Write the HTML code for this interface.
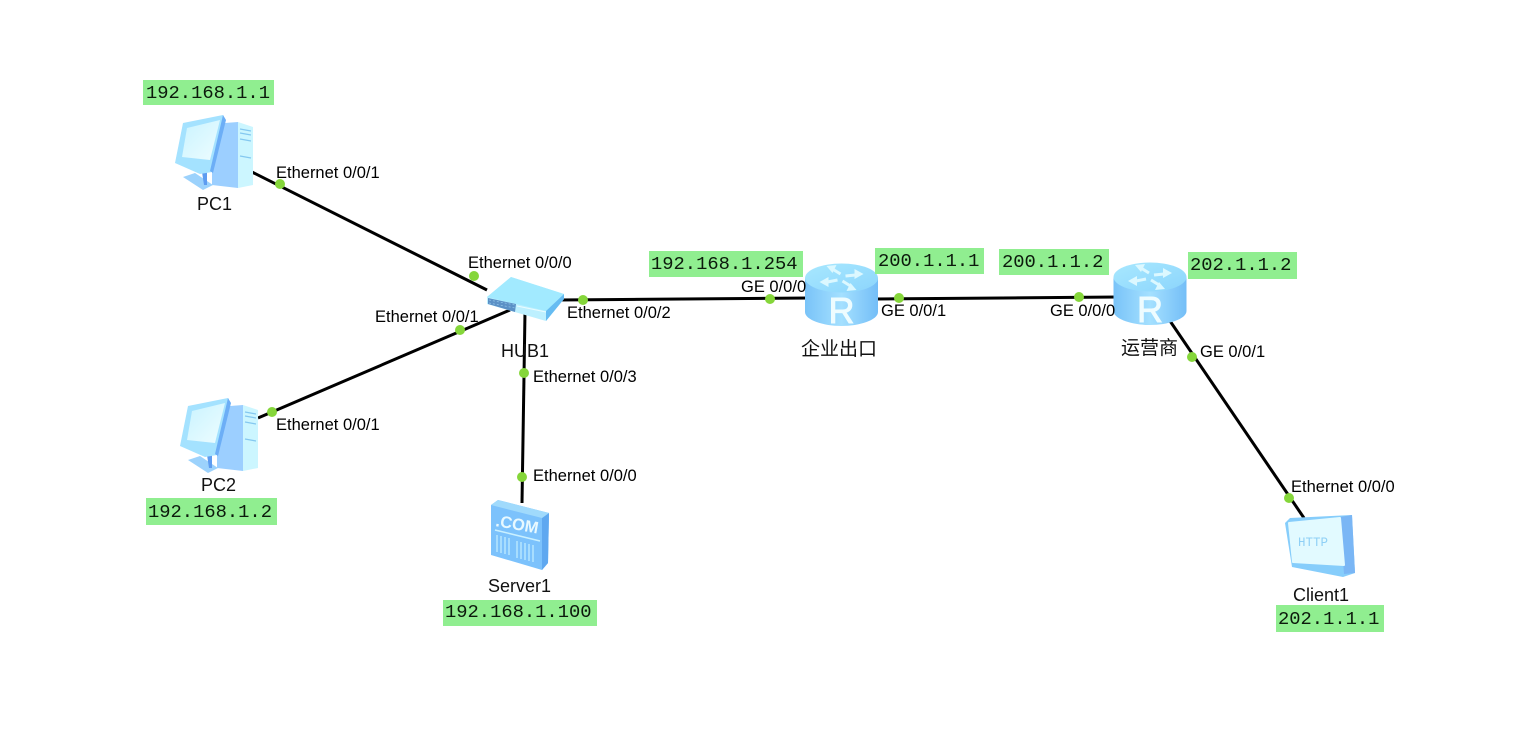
<!DOCTYPE html>
<html lang="zh">
<head>
<meta charset="utf-8">
<title>Network topology</title>
<style>
html,body{margin:0;padding:0;background:#fff;width:1532px;height:735px;overflow:hidden}
svg{display:block;filter:blur(.35px)}
.l{font-family:"Liberation Sans","Noto Sans CJK SC",sans-serif;font-size:16.5px;fill:#000}
.n{font-family:"Liberation Sans","Noto Sans CJK SC",sans-serif;font-size:18px;fill:#111}
.m{font-family:"Liberation Mono",monospace;font-size:18.8px;fill:#0c1a0c}
.g{fill:#90ee90}
.c{stroke:#000;stroke-width:3;fill:none}
.d{fill:#85d63a}
</style>
</head>
<body>
<svg width="1532" height="735" viewBox="0 0 1532 735" xmlns="http://www.w3.org/2000/svg">
<defs>
<linearGradient id="rb" x1="0" x2="1" y1="0" y2="0">
<stop offset="0" stop-color="#79c3f8"/><stop offset=".5" stop-color="#a4e0ff"/><stop offset="1" stop-color="#74bef7"/>
</linearGradient>
<linearGradient id="rt" x1="0" x2="1" y1="0" y2="1">
<stop offset="0" stop-color="#a8e8ff"/><stop offset="1" stop-color="#8cd5fc"/>
</linearGradient>
<linearGradient id="sc" x1="0" x2="1" y1="0" y2="1">
<stop offset="0" stop-color="#c9f3ff"/><stop offset="1" stop-color="#eefdff"/>
</linearGradient>
<g id="pc">
<polygon points="51,9 64,8 64,74 38,71 38,58" fill="#9ccfff"/>
<polygon points="64,8 79,13 79,71 64,74" fill="#ccf6ff"/>
<path d="M66,15l11,2M66,19l11,2M66,25l11,2M66,42l11,2" stroke="#84c8f0" stroke-width="1.200"/>
<polygon points="9,63 21,59 39,71 29,76" fill="#9cd2fc"/>
<polygon points="28,58 33,58 33,71 30,71" fill="#5e9cf0"/>
<polygon points="1,49 9,9 49,1 51,6 38,58 26,60" fill="#a4e2ff"/>
<polygon points="49,1 52,6 39,59 36,57" fill="#6caef6"/>
<polygon points="13,14 46,6 36,46 8,43" fill="url(#sc)"/>
</g>
<g id="router">
<path d="M-36.500,0V34C-36.500,42 -18,48 0,48S36.500,42 36.500,34V0Z" fill="url(#rb)"/>
<ellipse cx="0" cy="0" rx="36.500" ry="14.500" fill="url(#rt)"/>
<g stroke="#dcf8ff" stroke-width="3" fill="#dcf8ff">
<path d="M-1,-4L-9,-9"/><polygon stroke="none" points="-15,-12 -5,-13 -9,-5"/>
<path d="M4,-2L14,-3"/><polygon stroke="none" points="22,-4 13,-9 13,1"/>
<path d="M-4,2L-14,4"/><polygon stroke="none" points="-22,4 -13,-1 -13,9"/>
<path d="M1,3L9,8"/><polygon stroke="none" points="15,12 5,13 9,5"/>
</g>
<text x="0" y="45" text-anchor="middle" font-family="Liberation Sans,sans-serif" font-size="36" fill="#eefcff" stroke="#eefcff" stroke-width=".9">R</text>
</g>
</defs>

<!-- connectors -->
<line class="c" x1="250" y1="171" x2="487" y2="290"/>
<line class="c" x1="258" y1="418" x2="510" y2="310"/>
<line class="c" x1="558" y1="300" x2="810" y2="298"/>
<line class="c" x1="875" y1="299" x2="1118" y2="297"/>
<line class="c" x1="525" y1="312" x2="522" y2="503"/>
<line class="c" x1="1168" y1="318" x2="1304" y2="518"/>

<!-- PCs -->
<use href="#pc" x="174" y="114"/>
<use href="#pc" x="179" y="397"/>

<!-- Hub -->
<polygon points="487,297 511,277 564,294 564,299 546,321 487,304" fill="#bdf0ff"/>
<polygon points="487,297 511,277 564,294 546,311" fill="#a2eaff"/>
<polygon points="546,311 564,294 564,299 546,321" fill="#66bcf2"/>
<polygon points="488,298 516,304 515,312 488,304" fill="#5b90c6"/>
<path d="M489,300l26,5M489,303l26,5" stroke="#8fc4e8" stroke-width=".8" stroke-dasharray="2 2"/>
<path d="M517,306l29,6" stroke="#eafcff" stroke-width="1"/>

<!-- Routers -->
<use href="#router" x="841.500" y="278"/>
<use href="#router" x="1150" y="277"/>

<!-- Server -->
<polygon points="491,505 498,500 549,513 548,563 542,570 491,555" fill="#7cc2fc"/>
<polygon points="542,518 549,513 548,563 542,570" fill="#5fa8f0"/>
<polygon points="491,505 498,500 549,513 542,518" fill="#a0dafc"/>
<text x="495" y="526" font-family="Liberation Sans,sans-serif" font-weight="bold" font-size="16.500" fill="#e8f9ff" transform="rotate(10 495 526)">.COM</text>
<path d="M495,530L540,541" stroke="#c9f0ff" stroke-width="1.500"/>
<path d="M497,535v17m4,-16v17m4,-16v17m4,-16v17m8,-14v17m4,-16v17m4,-16v17m4,-16v17m4,-16v17" stroke="#b5e6ff" stroke-width="1.500" fill="none"/>

<!-- Client -->
<polygon points="1285,523 1290,518 1352,515 1355,573 1343,577 1292,567" fill="#86cdfb"/>
<polygon points="1340,517 1352,515 1355,573 1344,574" fill="#7ab6f5"/>
<polygon points="1289,523 1340,518 1344,565 1293,562" fill="#e2faff" stroke="#e2faff" stroke-width="2" stroke-linejoin="round"/>
<text x="1298" y="546" font-family="Liberation Mono,monospace" font-size="12.500" fill="#8fd0f6">HTTP</text>

<!-- dots -->
<g class="d">
<circle cx="280" cy="184" r="5"/>
<circle cx="474" cy="276" r="5"/>
<circle cx="272" cy="412" r="5"/>
<circle cx="460" cy="330" r="5"/>
<circle cx="583" cy="300" r="5"/>
<circle cx="770" cy="299" r="5"/>
<circle cx="899" cy="298" r="5"/>
<circle cx="1079" cy="297" r="5"/>
<circle cx="524" cy="373" r="5"/>
<circle cx="522" cy="477" r="5"/>
<circle cx="1192" cy="357" r="5"/>
<circle cx="1289" cy="498" r="5"/>
</g>

<!-- IP boxes -->
<rect class="g" x="143" y="80" width="131" height="25"/><text class="m" x="146" y="98">192.168.1.1</text>
<rect class="g" x="146" y="498" width="131" height="27"/><text class="m" x="148" y="517">192.168.1.2</text>
<rect class="g" x="443" y="600" width="154" height="26"/><text class="m" x="445" y="617">192.168.1.100</text>
<rect class="g" x="649" y="251" width="154" height="26"/><text class="m" x="651" y="269">192.168.1.254</text>
<rect class="g" x="875" y="248" width="109" height="26"/><text class="m" x="878" y="266">200.1.1.1</text>
<rect class="g" x="999" y="249" width="110" height="26"/><text class="m" x="1002" y="267">200.1.1.2</text>
<rect class="g" x="1188" y="252" width="109" height="27"/><text class="m" x="1190" y="270">202.1.1.2</text>
<rect class="g" x="1276" y="605" width="108" height="27"/><text class="m" x="1278" y="624">202.1.1.1</text>

<!-- port labels -->
<text class="l" x="276" y="178">Ethernet 0/0/1</text>
<text class="l" x="468" y="268">Ethernet 0/0/0</text>
<text class="l" x="375" y="322">Ethernet 0/0/1</text>
<text class="l" x="567" y="318">Ethernet 0/0/2</text>
<text class="l" x="533" y="382">Ethernet 0/0/3</text>
<text class="l" x="276" y="430">Ethernet 0/0/1</text>
<text class="l" x="533" y="481">Ethernet 0/0/0</text>
<text class="l" x="741" y="292">GE 0/0/0</text>
<text class="l" x="881" y="316">GE 0/0/1</text>
<text class="l" x="1050" y="316">GE 0/0/0</text>
<text class="l" x="1200" y="357">GE 0/0/1</text>
<text class="l" x="1291" y="492">Ethernet 0/0/0</text>

<!-- node names -->
<text class="n" x="197" y="210">PC1</text>
<text class="n" x="201" y="491">PC2</text>
<text class="n" x="501" y="357">HUB1</text>
<text class="n" x="488" y="592">Server1</text>
<text class="n" x="1293" y="601">Client1</text>
<text class="n" x="801" y="355" style="font-size:19px">企业出口</text>
<text class="n" x="1121" y="354" style="font-size:19px">运营商</text>
</svg>
</body>
</html>
